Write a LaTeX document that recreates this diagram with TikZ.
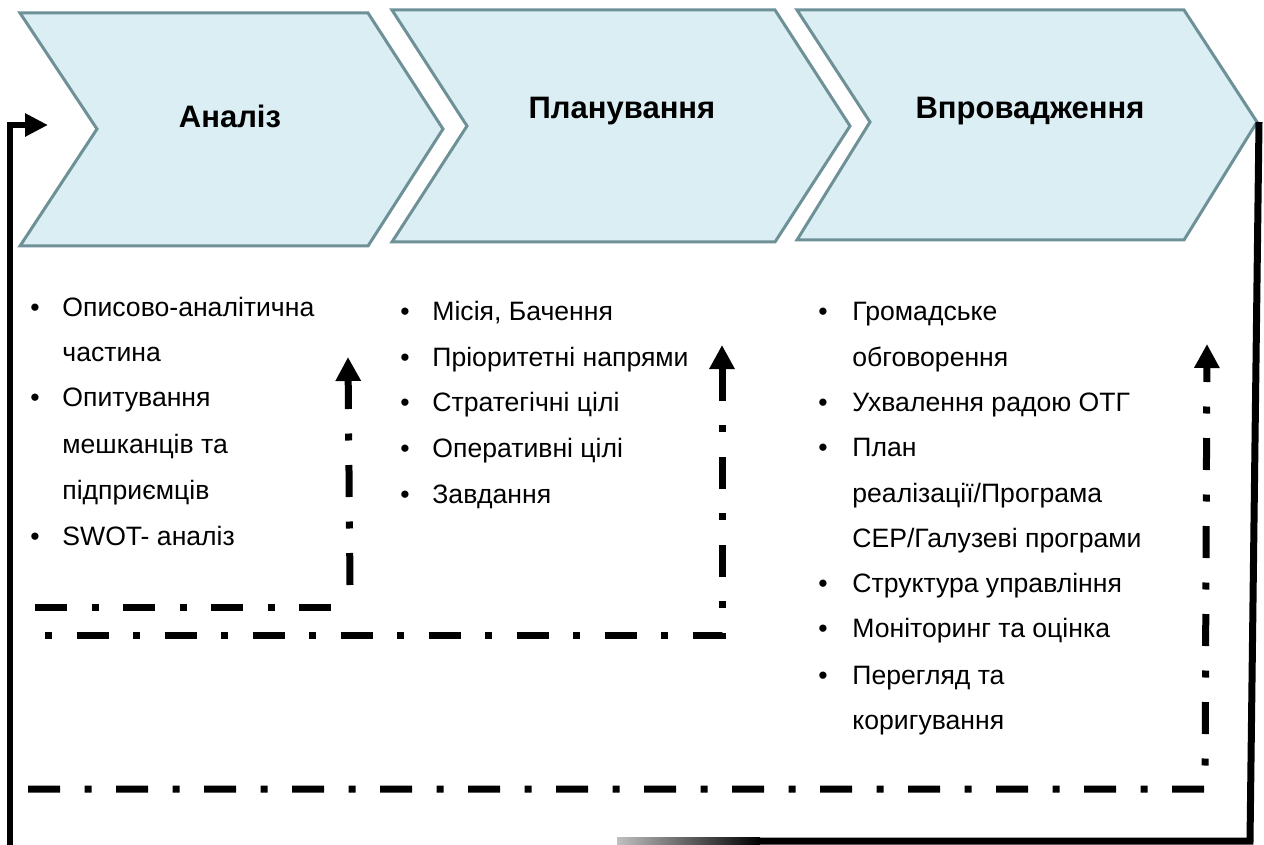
\documentclass[tikz,border=0pt]{standalone}
\usepackage{fontspec}
\setmainfont{Liberation Sans}
\usetikzlibrary{arrows.meta}
\definecolor{chevfill}{RGB}{218,238,243}
\definecolor{chevline}{RGB}{110,145,152}
\begin{document}
\begin{tikzpicture}[x=0.5pt,y=-0.5pt,
  chev/.style={fill=chevfill,draw=chevline,line width=1.5pt,line join=miter},
  head/.style={font=\fontsize{15.5}{18}\selectfont\bfseries,inner sep=0},
  item/.style={font=\fontsize{13.3}{16}\selectfont,anchor=base west,inner sep=0},
  bul/.style={font=\fontsize{13.3}{16}\selectfont,anchor=base,inner sep=0},
  loopline/.style={line width=3.5pt,dash pattern=on 16pt off 12.25pt on 3.5pt off 12.25pt,line join=miter},
  loopdot/.style={line width=3.5pt,dash pattern=on 3.5pt off 12.25pt on 16pt off 12.25pt,line join=miter},
  solidline/.style={line width=3pt,line join=miter},
  tip/.style={-{Triangle[length=12pt,width=12pt]}},
  ]
\useasboundingbox (0,0) rectangle (1264,845);

% chevrons
\draw[chev] (20,13) -- (368,13) -- (443,129) -- (368,246) -- (20,246) -- (97,129) -- cycle;
\draw[chev] (392,10) -- (775,10) -- (850,126) -- (775,242) -- (392,242) -- (467,126) -- cycle;
\draw[chev] (797,10) -- (1184,10) -- (1257,122) -- (1184,240) -- (797,240) -- (870,122) -- cycle;

\node[head] (h1) at (230,116) {Аналіз};
\node[head] (h2) at (622,111) {Планування};
\node[head] (h3) at (1030,111) {Впровадження};

% left column
\node[bul] (b11) at (35,316) {•};  \node[item] (t11) at (62,316) {Описово-аналітична};
\node[item] (t12) at (62,362) {частина};
\node[bul] (b13) at (35,407) {•};  \node[item] (t13) at (62,407) {Опитування};
\node[item] (t14) at (62,453) {мешканців та};
\node[item] (t15) at (62,499) {підприємців};
\node[bul] (b16) at (35,545) {•};  \node[item] (t16) at (62,545) {SWOT- аналіз};

% middle column
\node[bul] (b21) at (405,321) {•}; \node[item] (t21) at (432,321) {Місія, Бачення};
\node[bul] (b22) at (405,366) {•}; \node[item] (t22) at (432,366) {Пріоритетні напрями};
\node[bul] (b23) at (405,411) {•}; \node[item] (t23) at (432,411) {Стратегічні цілі};
\node[bul] (b24) at (405,457) {•}; \node[item] (t24) at (432,457) {Оперативні цілі};
\node[bul] (b25) at (405,503) {•}; \node[item] (t25) at (432,503) {Завдання};

% right column
\node[bul] (b31) at (823,321) {•}; \node[item] (t31) at (852,321) {Громадське};
\node[item] (t32) at (852,366) {обговорення};
\node[bul] (b33) at (823,411) {•}; \node[item] (t33) at (852,411) {Ухвалення радою ОТГ};
\node[bul] (b34) at (823,456) {•}; \node[item] (t34) at (852,456) {План};
\node[item] (t35) at (852,502) {реалізації/Програма};
\node[item] (t36) at (852,547) {СЕР/Галузеві програми};
\node[bul] (b37) at (823,592) {•}; \node[item] (t37) at (852,592) {Структура управління};
\node[bul] (b38) at (823,637) {•}; \node[item] (t38) at (852,637) {Моніторинг та оцінка};
\node[bul] (b39) at (823,684) {•}; \node[item] (t39) at (852,684) {Перегляд та};
\node[item] (t310) at (852,729) {коригування};

% coordinates for connectors
\coordinate (L0) at (10,845);
\coordinate (L1) at (10,125);
\coordinate (L2) at (48,125);
\coordinate (R0) at (617,841);
\coordinate (Rm) at (760,841);
\coordinate (R1) at (1250,841);
\coordinate (R2) at (1259,122);

\coordinate (a1s) at (35,607);
\coordinate (a1e) at (333,607);
\coordinate (a1b) at (350,585);
\coordinate (a1t) at (348,357);

\coordinate (a2s) at (45,635);
\coordinate (a2c) at (722,635);
\coordinate (a2t) at (722,345);

\coordinate (a3s) at (28,789);
\coordinate (a3c) at (1205,789);
\coordinate (a3t) at (1207,344);

% solid feedback line
\draw[solidline,{Triangle[length=11.5pt,width=11pt]}-] (L2) -- (L1) -- (L0);
\shade[left color=black!25,right color=black] ([yshift=1.75pt]R0) rectangle ([yshift=-1.75pt]Rm);
\draw[solidline,line width=3.5pt] (Rm) -- (R1) -- (R2);

% dash-dot loops
\draw[loopline] (a1s) -- (a1e);
\draw[loopline,tip] (a1b) -- (a1t);
\draw[loopdot,tip] (a2s) -- (a2c) -- (a2t);
\draw[loopline,tip] (a3s) -- (a3c) -- (a3t);
\end{tikzpicture}
\end{document}
